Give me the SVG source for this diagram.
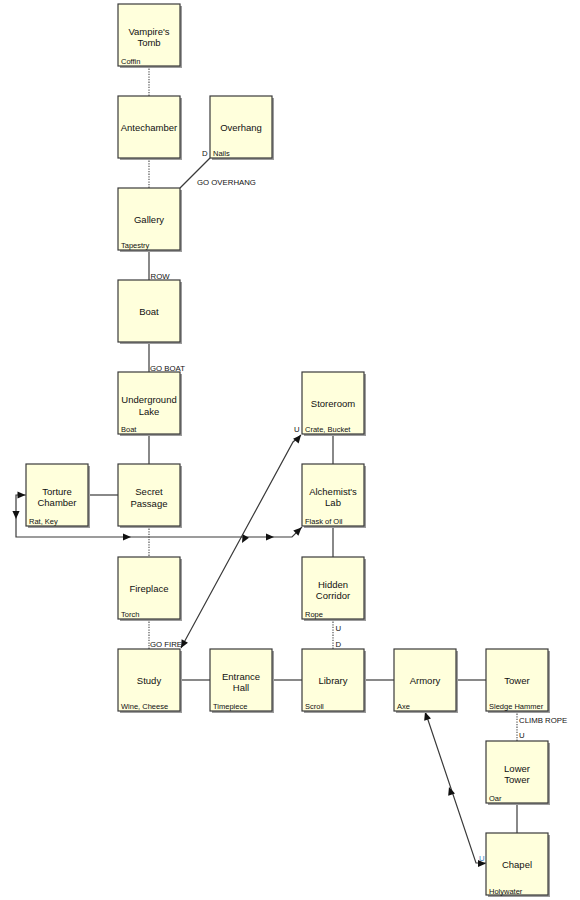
<svg xmlns="http://www.w3.org/2000/svg" xmlns:xlink="http://www.w3.org/1999/xlink" width="580" height="900" viewBox="0 0 580 900">
<style>
.sh{fill:#9c9c9c}
.bx{fill:#ffffdc;stroke:#3a3a3a;stroke-width:1.2}
.nm{font-family:"Liberation Sans",Arial,sans-serif;font-size:9.5px;fill:#111;text-anchor:middle}
.it{font-family:"Liberation Sans",Arial,sans-serif;font-size:7.5px;fill:#111}
.lb{font-family:"Liberation Sans",Arial,sans-serif;font-size:7.8px;fill:#111}
.ln{fill:none;stroke:#3a3a3a;stroke-width:1.2}
.dt{fill:none;stroke:#555;stroke-width:1.2;stroke-dasharray:1.3 1.3}
.ah{fill:#111}
</style>
<defs>
<path id="ah" d="M0,0 L-8,-3.6 L-8,3.6 Z"/>
</defs>
<rect width="580" height="900" fill="#fff"/>
<g id="connectors">
<path class="dt" d="M149,66 V96"/>
<path class="dt" d="M149,158 V188"/>
<path class="ln" d="M210,158 L180,188"/>
<path class="ln" d="M149,250 V280"/>
<path class="ln" d="M149,342 V372"/>
<path class="ln" d="M149,434 V464"/>
<path class="ln" d="M88,495 H118"/>
<path class="dt" d="M149,526 V557"/>
<path class="dt" d="M149,619 V649"/>
<path class="ln" d="M180,680 H210"/>
<path class="ln" d="M272,680 H302"/>
<path class="ln" d="M364,680 H394"/>
<path class="ln" d="M456,680 H486"/>
<path class="ln" d="M333,434 V464"/>
<path class="ln" d="M333,526 V557"/>
<path class="dt" d="M333,619 V649"/>
<path class="dt" d="M517,711 V741"/>
<path class="ln" d="M517,803 V833"/>
<path class="ln" d="M26,495 H16 V537 H292 L302,527"/>
<path class="ln" d="M181,648 L293,442 L301,435"/>
<path class="ln" d="M425,711 L476,863 H486"/>
<g class="ah">
<use xlink:href="#ah" transform="translate(25.5,495)"/>
<use xlink:href="#ah" transform="translate(16,519) rotate(90)"/>
<use xlink:href="#ah" transform="translate(131,537)"/>
<use xlink:href="#ah" transform="translate(274,537)"/>
<use xlink:href="#ah" transform="translate(301.5,527.5) rotate(-45)"/>
<use xlink:href="#ah" transform="translate(242,543) rotate(118.4)"/>
<use xlink:href="#ah" transform="translate(181,648) rotate(118.4)"/>
<use xlink:href="#ah" transform="translate(301,435) rotate(-50)"/>
<use xlink:href="#ah" transform="translate(425,712) rotate(-108.9)"/>
<use xlink:href="#ah" transform="translate(449,787) rotate(-108.9)"/>
<use xlink:href="#ah" transform="translate(486,863.5)"/>
</g>
<text class="lb" x="202" y="156">D</text>
<text class="lb" x="197" y="185">GO OVERHANG</text>
<text class="lb" x="150.5" y="279">ROW</text>
<text class="lb" x="150" y="371">GO BOAT</text>
<text class="lb" x="150" y="647">GO FIRE</text>
<text class="lb" x="335.5" y="631">U</text>
<text class="lb" x="335.5" y="647">D</text>
<text class="lb" x="519" y="723">CLIMB ROPE</text>
<text class="lb" x="519" y="738">U</text>
<text class="lb" x="294" y="432">U</text>
<text class="lb" x="479" y="861" style="fill:#3a7fc0">U</text>
</g>
<g id="vampires-tomb" transform="translate(118,4)"><rect class="sh" x="2" y="2" width="62" height="62"/><rect class="bx" width="62" height="62"/><text class="nm" x="31" y="31">Vampire's</text><text class="nm" x="31" y="42">Tomb</text><text class="it" x="3" y="59.5">Coffin</text></g>
<g id="antechamber" transform="translate(118,96)"><rect class="sh" x="2" y="2" width="62" height="62"/><rect class="bx" width="62" height="62"/><text class="nm" x="31" y="35">Antechamber</text></g>
<g id="overhang" transform="translate(210,96)"><rect class="sh" x="2" y="2" width="62" height="62"/><rect class="bx" width="62" height="62"/><text class="nm" x="31" y="35">Overhang</text><text class="it" x="3" y="59.5">Nails</text></g>
<g id="gallery" transform="translate(118,188)"><rect class="sh" x="2" y="2" width="62" height="62"/><rect class="bx" width="62" height="62"/><text class="nm" x="31" y="35">Gallery</text><text class="it" x="3" y="59.5">Tapestry</text></g>
<g id="boat" transform="translate(118,280)"><rect class="sh" x="2" y="2" width="62" height="62"/><rect class="bx" width="62" height="62"/><text class="nm" x="31" y="35">Boat</text></g>
<g id="underground-lake" transform="translate(118,372)"><rect class="sh" x="2" y="2" width="62" height="62"/><rect class="bx" width="62" height="62"/><text class="nm" x="31" y="31">Underground</text><text class="nm" x="31" y="42.5">Lake</text><text class="it" x="3" y="59.5">Boat</text></g>
<g id="torture-chamber" transform="translate(26,464)"><rect class="sh" x="2" y="2" width="62" height="62"/><rect class="bx" width="62" height="62"/><text class="nm" x="31" y="31">Torture</text><text class="nm" x="31" y="42">Chamber</text><text class="it" x="3" y="59.5">Rat, Key</text></g>
<g id="secret-passage" transform="translate(118,464)"><rect class="sh" x="2" y="2" width="62" height="62"/><rect class="bx" width="62" height="62"/><text class="nm" x="31" y="31">Secret</text><text class="nm" x="31" y="42.5">Passage</text></g>
<g id="fireplace" transform="translate(118,557)"><rect class="sh" x="2" y="2" width="62" height="62"/><rect class="bx" width="62" height="62"/><text class="nm" x="31" y="35">Fireplace</text><text class="it" x="3" y="59.5">Torch</text></g>
<g id="study" transform="translate(118,649)"><rect class="sh" x="2" y="2" width="62" height="62"/><rect class="bx" width="62" height="62"/><text class="nm" x="31" y="35">Study</text><text class="it" x="3" y="59.5">Wine, Cheese</text></g>
<g id="entrance-hall" transform="translate(210,649)"><rect class="sh" x="2" y="2" width="62" height="62"/><rect class="bx" width="62" height="62"/><text class="nm" x="31" y="31">Entrance</text><text class="nm" x="31" y="42">Hall</text><text class="it" x="3" y="59.5">Timepiece</text></g>
<g id="library" transform="translate(302,649)"><rect class="sh" x="2" y="2" width="62" height="62"/><rect class="bx" width="62" height="62"/><text class="nm" x="31" y="35">Library</text><text class="it" x="3" y="59.5">Scroll</text></g>
<g id="armory" transform="translate(394,649)"><rect class="sh" x="2" y="2" width="62" height="62"/><rect class="bx" width="62" height="62"/><text class="nm" x="31" y="35">Armory</text><text class="it" x="3" y="59.5">Axe</text></g>
<g id="tower" transform="translate(486,649)"><rect class="sh" x="2" y="2" width="62" height="62"/><rect class="bx" width="62" height="62"/><text class="nm" x="31" y="35">Tower</text><text class="it" x="3" y="59.5">Sledge Hammer</text></g>
<g id="lower-tower" transform="translate(486,741)"><rect class="sh" x="2" y="2" width="62" height="62"/><rect class="bx" width="62" height="62"/><text class="nm" x="31" y="31">Lower</text><text class="nm" x="31" y="42">Tower</text><text class="it" x="3" y="59.5">Oar</text></g>
<g id="chapel" transform="translate(486,833)"><rect class="sh" x="2" y="2" width="62" height="62"/><rect class="bx" width="62" height="62"/><text class="nm" x="31" y="35">Chapel</text><text class="it" x="3" y="60.5">Holywater</text></g>
<g id="storeroom" transform="translate(302,372)"><rect class="sh" x="2" y="2" width="62" height="62"/><rect class="bx" width="62" height="62"/><text class="nm" x="31" y="35">Storeroom</text><text class="it" x="3" y="59.5">Crate, Bucket</text></g>
<g id="alchemists-lab" transform="translate(302,464)"><rect class="sh" x="2" y="2" width="62" height="62"/><rect class="bx" width="62" height="62"/><text class="nm" x="31" y="31">Alchemist's</text><text class="nm" x="31" y="42">Lab</text><text class="it" x="3" y="59.5">Flask of Oil</text></g>
<g id="hidden-corridor" transform="translate(302,557)"><rect class="sh" x="2" y="2" width="62" height="62"/><rect class="bx" width="62" height="62"/><text class="nm" x="31" y="31">Hidden</text><text class="nm" x="31" y="42">Corridor</text><text class="it" x="3" y="59.5">Rope</text></g>
</svg>
